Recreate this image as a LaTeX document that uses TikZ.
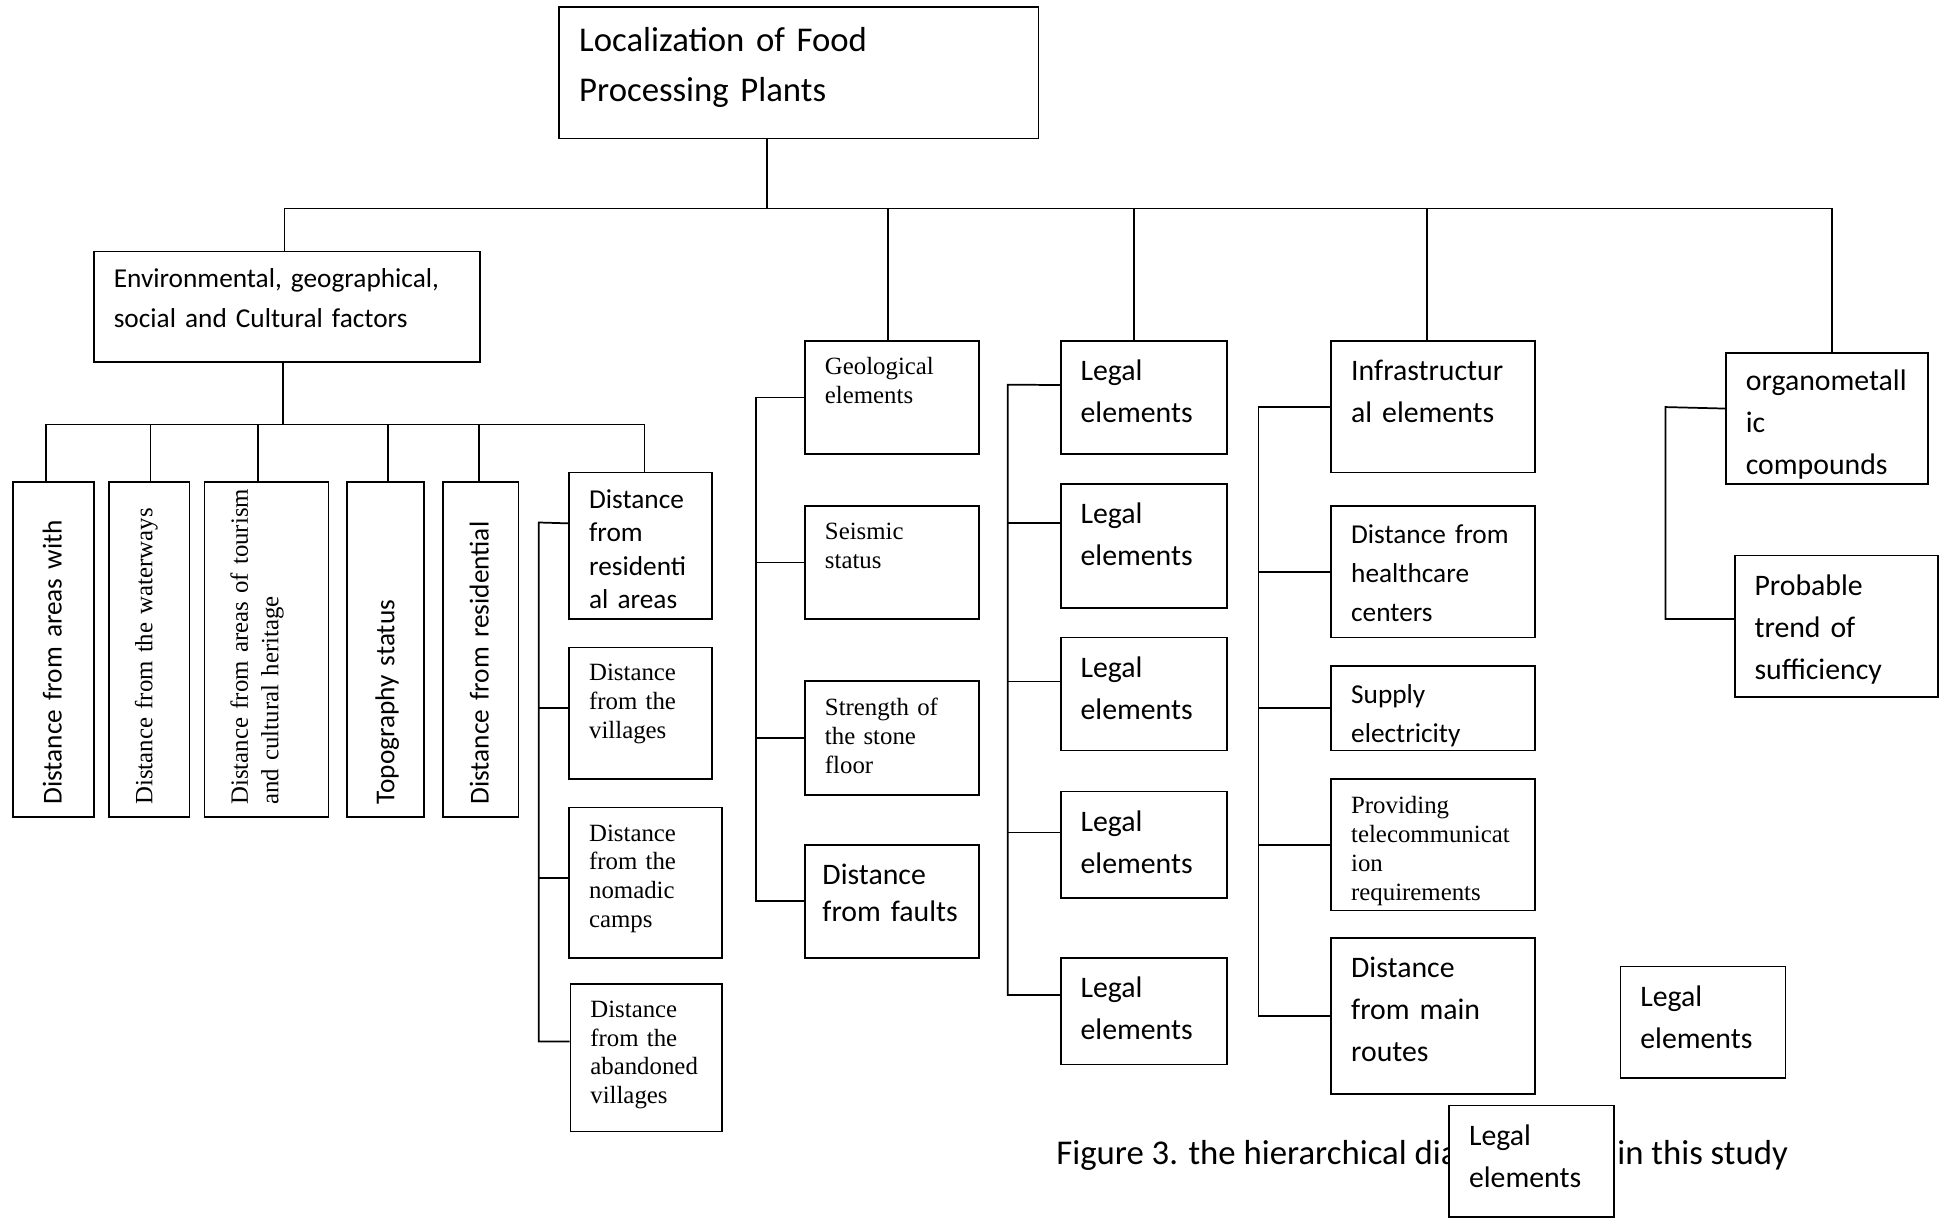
\documentclass[tikz,border=0pt]{standalone}
\usepackage{fontspec}
\setmainfont{Liberation Serif}
\setsansfont{Carlito}
\usetikzlibrary{positioning,calc}
\tikzset{
  box/.style={draw,line width=1.4pt,anchor=north west,inner sep=0pt,align=left},
  cal/.style={font=\sffamily\fontsize{24}{34}\selectfont},
  calsm/.style={font=\sffamily\fontsize{22}{31.5}\selectfont},
  tnr/.style={font=\rmfamily\fontsize{20}{23.2}\selectfont},
  link/.style={line width=1.4pt},
  upright/.style={rotate=90,minimum width=270pt,text width=250pt},
}

\begin{document}
\begin{tikzpicture}[x=1pt,y=-1pt]
  \useasboundingbox (0,0) rectangle (1568,984);

  % top level
  \node[box,font=\sffamily\fontsize{28}{40}\selectfont,minimum width=386pt,text width=354pt,
    text height=36pt,text depth=70pt] (root) at (450,5) {Localization of Food\\Processing Plants};
  \node[box,font=\sffamily\fontsize{22}{32}\selectfont,minimum width=311pt,text width=279pt,
    text height=29pt,text depth=60pt] (env) at (75,202) {Environmental, geographical,\\social and Cultural factors};

  % environmental branch
  \node[box,upright,calsm,text height=39pt,text depth=26pt] (v1) at (10,659) {Distance from areas with};
  \node[box,upright,tnr,text height=35pt,text depth=30pt] (v2) at (87,659) {Distance from the waterways};
  \node[box,upright,font=\rmfamily\fontsize{20}{24.7}\selectfont,text height=35pt,text depth=65pt] (v3) at (164,659)
    {\mbox{Distance from areas of tourism}\\and cultural heritage};
  \node[box,upright,calsm,text height=38pt,text depth=24pt] (v4) at (279,659) {Topography status};
  \node[box,upright,calsm,text height=37pt,text depth=24pt] (v5) at (356,659) {Distance from residential};
  \node[box,font=\sffamily\fontsize{22}{27}\selectfont,minimum width=115pt,text width=83pt,
    text height=29pt,text depth=89pt] (dres) at (458,380) {Distance\\from\\residenti\\al areas};
  \node[box,tnr,minimum width=115pt,text width=83pt,text height=27pt,text depth=79pt] (dvil) at (458,521)
    {Distance\\from the\\villages};
  \node[box,tnr,minimum width=123pt,text width=91pt,text height=27pt,text depth=94pt] (dnom) at (458,650)
    {Distance\\from the\\nomadic\\camps};
  \node[box,tnr,minimum width=122pt,text width=90pt,text height=27pt,text depth=92pt] (daban) at (459,792)
    {Distance\\from the\\abandoned\\villages};

  % geological branch
  \node[box,tnr,minimum width=140pt,text width=108pt,text height=27pt,text depth=64pt] (geo) at (648,274)
    {Geological\\elements};
  \node[box,tnr,minimum width=140pt,text width=108pt,text height=27pt,text depth=64pt] (seis) at (648,407)
    {Seismic\\status};
  \node[box,tnr,minimum width=140pt,text width=108pt,text height=28pt,text depth=64pt] (stren) at (648,548)
    {Strength of\\the stone\\floor};
  \node[box,font=\sffamily\fontsize{24}{30}\selectfont,minimum width=140pt,text width=112pt,
    text height=32pt,text depth=59pt] (faults) at (648,680) {Distance\\from faults};

  % legal branch
  \foreach \i/\y/\h in {1/274/91,2/389/100,3/513/91,4/637/86,5/771/86}{
    \pgfmathsetmacro{\d}{\h-32}
    \node[box,cal,minimum width=134pt,text width=102pt,text height=32pt,text depth=\d pt] (leg\i) at (854,\y)
      {Legal\\elements};
  }

  % infrastructure branch
  \node[box,cal,minimum width=164pt,text width=132pt,text height=32pt,text depth=74pt] (infra) at (1072,274)
    {Infrastructur\\al elements};
  \node[box,calsm,minimum width=164pt,text width=132pt,text height=30pt,text depth=76pt] (health) at (1072,407)
    {Distance from\\healthcare\\centers};
  \node[box,calsm,minimum width=164pt,text width=132pt,text height=30pt,text depth=38pt] (supply) at (1072,536)
    {Supply\\electricity};
  \node[box,tnr,minimum width=164pt,text width=132pt,text height=28pt,text depth=78pt] (telecom) at (1072,627)
    {Providing\\telecommunicat\\ion\\requirements};
  \node[box,cal,minimum width=164pt,text width=132pt,text height=32pt,text depth=94pt] (routes) at (1072,755)
    {Distance\\from main\\routes};

  % organometallic branch
  \node[box,cal,minimum width=163pt,text width=131pt,text height=30pt,text depth=75pt] (org) at (1390,284)
    {organometall\\ic\\compounds};
  \node[box,cal,minimum width=164pt,text width=132pt,text height=32pt,text depth=82pt] (prob) at (1397,447)
    {Probable\\trend of\\sufficiency};

  % loose boxes and caption
  \node[box,cal,minimum width=133pt,text width=101pt,text height=32pt,text depth=58pt] (legA) at (1305,778)
    {Legal\\elements};
  \node[font=\sffamily\fontsize{28}{34}\selectfont,anchor=base west,inner sep=0pt] (cap1) at (851,938)
    {Figure 3. the hierarchical dia};
  \node[font=\sffamily\fontsize{28}{34}\selectfont,anchor=base west,inner sep=0pt] (cap2) at (1303,938)
    {in this study};
  \node[box,cal,fill=white,minimum width=133pt,text width=101pt,text height=32pt,text depth=58pt] (legB) at (1167,890)
    {Legal\\elements};

  % tree links
  \coordinate (hub) at (618,168);
  \coordinate (hub2) at (228,342);
  \draw[link] (hub |- root.south) -- (hub);
  \draw[link] ([xshift=-2]env.north) |- (hub) -| ([xshift=4]org.north);
  \foreach \n/\dx in {geo/-3,leg1/-8,infra/-5}
    \draw[link] ([xshift=\dx]\n.north) -- ([xshift=\dx]\n.north |- hub);
  \draw[link] (env.south -| hub2) -- (hub2);
  \draw[link] ([xshift=-6]v1.east) |- (hub2) -| ([xshift=3]dres.north);
  \foreach \n/\dx in {v2/1,v3/-7,v4/2,v5/-1}
    \draw[link] ([xshift=\dx]\n.east) -- ([xshift=\dx]\n.east |- hub2);

  % side links
  \coordinate (resbar) at (434,421);
  \draw[link] ([yshift=18]dres.west) -- (resbar) |- ([yshift=13]daban.west);
  \foreach \n/\dy in {dvil/4,dnom/4}
    \draw[link] ([yshift=\dy]\n.west) -- ([yshift=\dy]\n.west -| resbar);
  \coordinate (geobar) at (609,318);
  \draw[link] (geo.west) -- (geo.west -| geobar) |- (faults.west);
  \foreach \n in {seis,stren}
    \draw[link] (\n.west) -- (\n.west -| geobar);
  \coordinate (legbar) at (812,310);
  \draw[link] ([yshift=10]leg1.west) -- (legbar) |- ([yshift=13]leg5.west);
  \foreach \n/\dy in {leg2/18,leg3/10,leg4/10}
    \draw[link] ([yshift=\dy]\n.west) -- ([yshift=\dy]\n.west -| legbar);
  \coordinate (infbar) at (1014,328);
  \draw[link] (infra.west) -- (infra.west -| infbar) |- (routes.west);
  \foreach \n in {health,supply,telecom}
    \draw[link] (\n.west) -- (\n.west -| infbar);
  \coordinate (orgbar) at (1342,328);
  \draw[link] ([yshift=8]org.west) -- (orgbar) |- ([yshift=6]prob.west);
\end{tikzpicture}
\end{document}
